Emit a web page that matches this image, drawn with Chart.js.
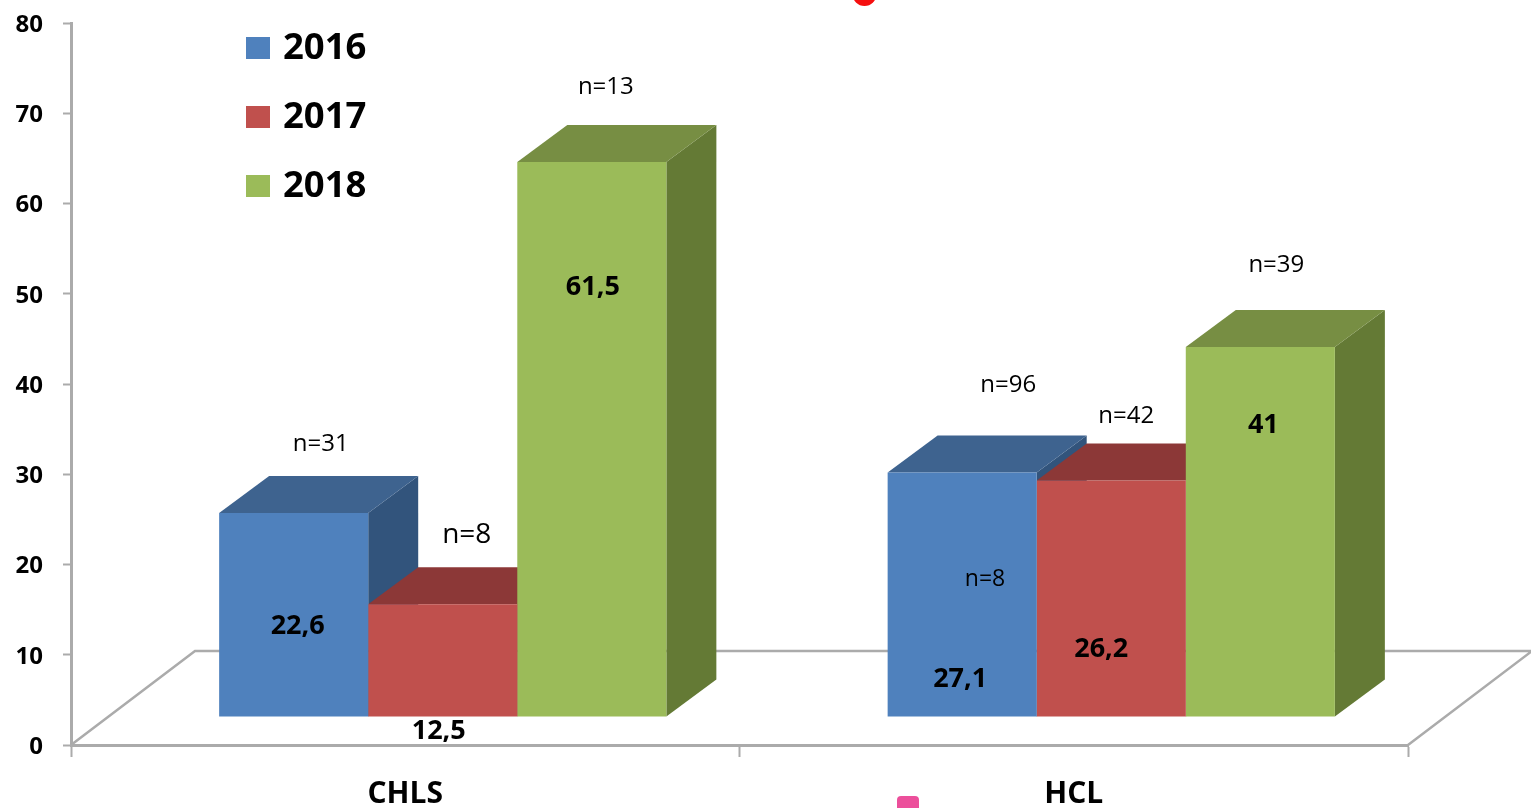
<!DOCTYPE html>
<html>
<head>
<meta charset="utf-8">
<style>
  html, body { margin: 0; padding: 0; background: #fff; overflow: hidden; }
  canvas { display: block; filter: blur(0.5px); }
</style>
<script src="https://cdn.jsdelivr.net/npm/chart.js@4"></script>
</head>
<body>
<canvas id="chart3d" width="1531" height="808"></canvas>
<script>
// Data
const categories = ['CHLS', 'HCL'];
const years = ['2016', '2017', '2018'];
const values2016 = [22.6, 27.1];
const values2017 = [12.5, 26.2];
const values2018 = [61.5, 41];
const yTicks = [0, 10, 20, 30, 40, 50, 60, 70, 80];
const nLabels2016 = ['n=31', 'n=96'];
const nLabels2017 = ['n=8', 'n=42'];
const nLabels2018 = ['n=13', 'n=39'];

// Colours per series: front, top, side
const frontColors = ['#4F81BD', '#C0504D', '#9BBB59'];
const topColors = ['#3E638F', '#8C3837', '#778E43'];
const sideColors = ['#32547C', '#7A3030', '#647A35'];
const axisColor = '#ABABAB';

// The bars stand in front of the axis plane
const shiftX = 37.5, shiftY = -28;
const depthX = 50, depthY = -37;
const floorX = 124, floorY = -94;

// Hand placement of the labels, relative to the front top centre of each bar
const valueNudge = [
    [[4, 113], [-2, 207]],
    [[-4, 127], [-10, 169]],
    [[1, 125], [3, 78]]
];
const nNudge = [
    [[27, -68.5, 24], [46, -87.5, 24]],
    [[24, -69.5, 28], [15, -64.5, 24]],
    [[14, -74.5, 24], [16, -81.5, 24]]
];

const FONT = '"Open Sans", sans-serif';

function formatValue(v) {
    return String(v).replace('.', ',');
}

const faces3d = {
    id: 'faces3d',
    beforeDatasetsDraw(chart) {
        const ctx = chart.ctx;
        const a = chart.chartArea;

        // floor
        ctx.save();
        ctx.strokeStyle = axisColor;
        ctx.lineWidth = 2.5;
        ctx.beginPath();
        ctx.moveTo(a.left, a.bottom);
        ctx.lineTo(a.left + floorX, a.bottom + floorY);
        ctx.lineTo(a.right + floorX, a.bottom + floorY);
        ctx.lineTo(a.right, a.bottom);
        ctx.stroke();
        ctx.restore();

        // everything in the bar layer moves to the front plane
        ctx.save();
        ctx.translate(shiftX, shiftY);

        chart.data.datasets.forEach((ds, i) => {
            chart.getDatasetMeta(i).data.forEach(bar => {
                const l = bar.x - bar.width / 2;
                const r = bar.x + bar.width / 2;
                ctx.fillStyle = sideColors[i];
                ctx.beginPath();
                ctx.moveTo(r, bar.y);
                ctx.lineTo(r + depthX, bar.y + depthY);
                ctx.lineTo(r + depthX, bar.base + depthY);
                ctx.lineTo(r, bar.base);
                ctx.closePath();
                ctx.fill();
                ctx.fillStyle = topColors[i];
                ctx.beginPath();
                ctx.moveTo(l, bar.y);
                ctx.lineTo(l + depthX, bar.y + depthY);
                ctx.lineTo(r + depthX, bar.y + depthY);
                ctx.lineTo(r, bar.y);
                ctx.closePath();
                ctx.fill();
            });
        });
    },
    afterDatasetsDraw(chart) {
        chart.ctx.restore();
    },
    afterDraw(chart) {
        const ctx = chart.ctx;
        const nLabels = [nLabels2016, nLabels2017, nLabels2018];
        ctx.save();
        ctx.textAlign = 'center';
        ctx.textBaseline = 'middle';
        ctx.fillStyle = '#000';

        chart.data.datasets.forEach((ds, i) => {
            chart.getDatasetMeta(i).data.forEach((bar, j) => {
                const x = bar.x + shiftX;
                const y = bar.y + shiftY;
                ctx.font = 'bold 27px ' + FONT;
                ctx.fillText(formatValue(ds.data[j]), x + valueNudge[i][j][0], y + valueNudge[i][j][1]);
                ctx.font = nNudge[i][j][2] + 'px ' + FONT;
                ctx.fillText(nLabels[i][j], x + nNudge[i][j][0], y + nNudge[i][j][1]);
            });
        });

        // stray n=8 sitting on the HCL 2016 bar
        ctx.font = '23px ' + FONT;
        ctx.fillText('n=8', 985, 579);

        // legend
        years.forEach((year, i) => {
            const cy = 49 + i * 69;
            ctx.fillStyle = frontColors[i];
            ctx.fillRect(246, cy - 12, 24, 22);
            ctx.fillStyle = '#000';
            ctx.font = 'bold 36.5px ' + FONT;
            ctx.textAlign = 'left';
            ctx.fillText(year, 283, cy);
        });

        // cropped marks left over at the picture edges
        ctx.fillStyle = '#F50F0F';
        ctx.beginPath();
        ctx.arc(864.5, -6, 12, 0, Math.PI * 2);
        ctx.fill();
        ctx.fillStyle = '#EC4F9B';
        ctx.beginPath();
        ctx.roundRect(897, 796, 22, 20, 4);
        ctx.fill();
        ctx.restore();
    }
};

const ctx = document.getElementById('chart3d').getContext('2d');
const chart3d = new Chart(ctx, {
    type: 'bar',
    data: {
        labels: categories,
        datasets: [values2016, values2017, values2018].map((data, i) => ({
            label: years[i],
            data: data,
            backgroundColor: frontColors[i],
            borderWidth: 0,
            categoryPercentage: 0.669,
            barPercentage: 1,
            clip: false
        }))
    },
    plugins: [faces3d],
    options: {
        responsive: false,
        animation: false,
        layout: { padding: { left: 0, right: 123, top: 23, bottom: 0 } },
        plugins: {
            legend: { display: false },
            tooltip: { enabled: false }
        },
        scales: {
            x: {
                afterFit(scale) { scale.height = 63; },
                border: { color: axisColor, width: 3 },
                grid: { drawOnChartArea: false, tickLength: 12, tickColor: axisColor, tickWidth: 2 },
                ticks: { color: '#000', font: { family: FONT, size: 30, weight: 'bold' }, padding: 19, maxRotation: 0 }
            },
            y: {
                min: 0,
                max: 80,
                afterFit(scale) { scale.width = 71; scale.paddingTop = 0; scale.paddingBottom = 0; },
                afterBuildTicks(scale) { scale.ticks = yTicks.map(value => ({ value })); },
                border: { color: axisColor, width: 3 },
                grid: { drawOnChartArea: false, tickLength: 8, tickColor: axisColor, tickWidth: 2 },
                ticks: { color: '#000', font: { family: FONT, size: 24, weight: 'bold' }, padding: 20, labelOffset: 2 }
            }
        }
    }
});
</script>
</body>
</html>
